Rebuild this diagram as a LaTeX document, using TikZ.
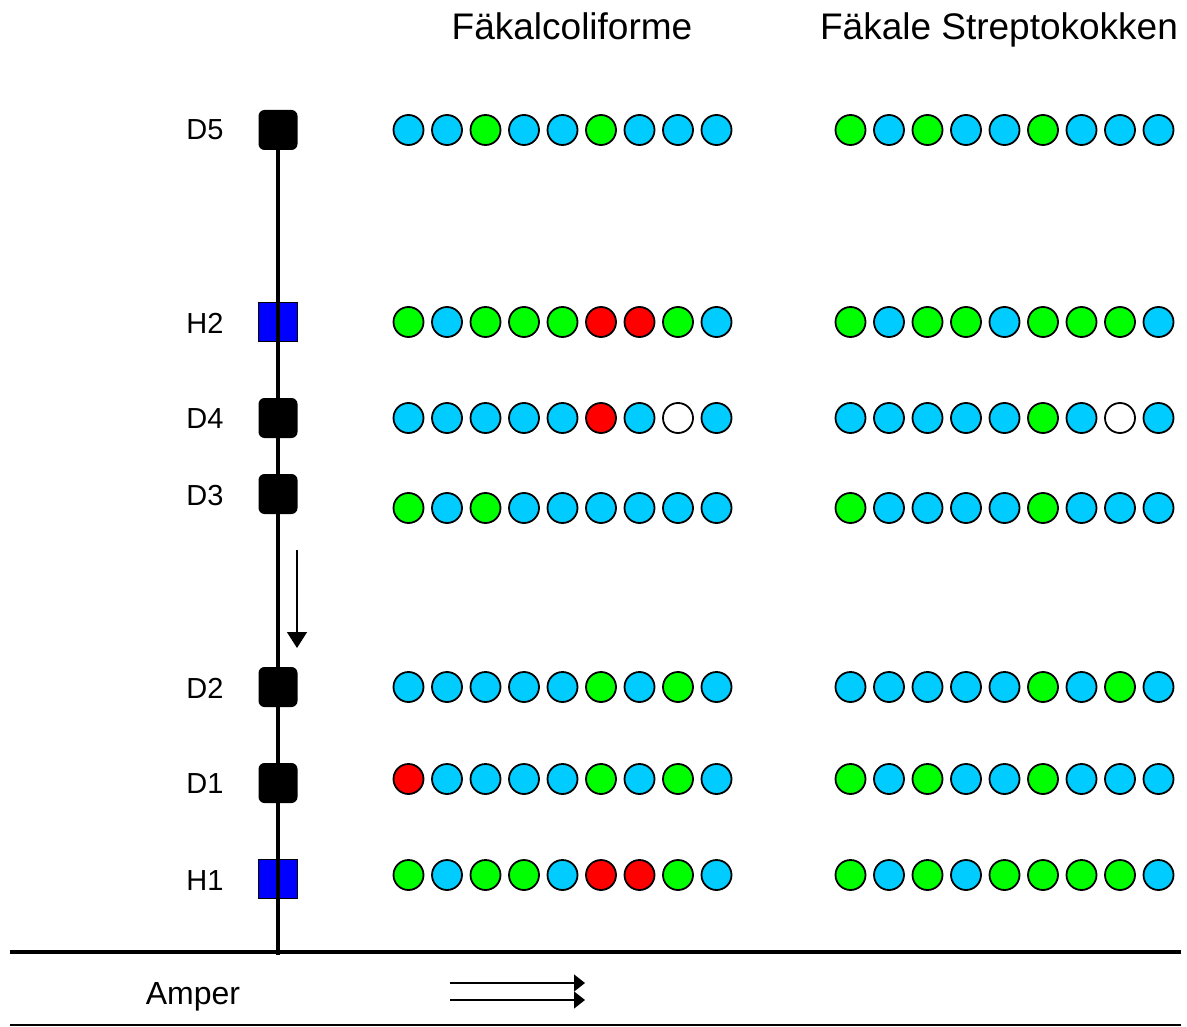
\documentclass[tikz,border=0pt]{standalone}
\usepackage{fontspec}
\setmainfont{Liberation Sans}
\usetikzlibrary{arrows.meta}
\definecolor{colc}{HTML}{00CCFF}
\definecolor{colg}{HTML}{00FF00}
\definecolor{colr}{HTML}{FF0000}
\definecolor{colw}{HTML}{FFFFFF}
\definecolor{hbox}{HTML}{0000FF}
\tikzset{
  dot/.style={circle,draw=black,line width=1.8pt,minimum size=30pt,inner sep=0pt},
  dbox/.style={rectangle,rounded corners=6pt,fill=black,minimum width=39pt,minimum height=40pt,inner sep=0pt},
  hstation/.style={rectangle,fill=hbox,draw=black,line width=0.8pt,minimum width=39pt,minimum height=39pt,inner sep=0pt},
  lbl/.style={font=\fontsize{29}{32}\selectfont,inner sep=0pt},
  head/.style={font=\fontsize{37}{40}\selectfont,inner sep=0pt,anchor=base},
  thinarrow/.style={line width=1.3pt,-{Triangle[width=20pt,length=16pt]}},
  amparrow/.style={line width=1.3pt,-{Triangle[width=17pt,length=11pt]}}
}
\begin{document}
\begin{tikzpicture}[x=1pt,y=-1pt]
\useasboundingbox (0,0) rectangle (1187,1027);
% headings
\node[head] (hfc) at (572,40) {Fäkalcoliforme};
\node[head] (hfs) at (999,40) {Fäkale Streptokokken};
% stations
\node[dbox] (D5) at (278,130) {};
\node[hstation] (H2) at (278,322) {};
\node[dbox] (D4) at (278,418) {};
\node[dbox] (D3) at (278,494) {};
\node[dbox] (D2) at (278,687) {};
\node[dbox] (D1) at (278,783) {};
\node[hstation] (H1) at (278,879) {};
% labels
\node[lbl] (lD5) at (205,130) {D5};
\node[lbl] (lH2) at (205,323) {H2};
\node[lbl] (lD4) at (205,419) {D4};
\node[lbl] (lD3) at (205,496) {D3};
\node[lbl] (lD2) at (205,688) {D2};
\node[lbl] (lD1) at (205,784) {D1};
\node[lbl] (lH1) at (205,881) {H1};
% base lines
\coordinate (bl) at (10,952);
\coordinate (br) at (1181,952);
\coordinate (base) at (278,955);
\draw[line width=3.8pt] (bl) -- (br);
\draw[line width=3.8pt] (D5.center) -- (base);
\coordinate (ll) at (10,1025);
\coordinate (lr) at (1181,1025);
\draw[line width=1.3pt] (ll) -- (lr);
% flow arrow
\coordinate (fa1) at (297,550);
\coordinate (fa2) at (297,648);
\draw[thinarrow] (fa1) -- (fa2);
% Amper
\node[font=\fontsize{32}{36}\selectfont,inner sep=0pt] (amp) at (193,997) {Amper};
\coordinate (a1s) at (450,983);
\coordinate (a1e) at (585,983);
\coordinate (a2s) at (450,1000);
\coordinate (a2e) at (585,1000);
\draw[amparrow] (a1s) -- (a1e);
\draw[amparrow] (a2s) -- (a2e);
% dot rows
\foreach \row/\y/\fc/\fs in {
  D5/130/{c,c,g,c,c,g,c,c,c}/{g,c,g,c,c,g,c,c,c},
  H2/322/{g,c,g,g,g,r,r,g,c}/{g,c,g,g,c,g,g,g,c},
  D4/418/{c,c,c,c,c,r,c,w,c}/{c,c,c,c,c,g,c,w,c},
  D3/508/{g,c,g,c,c,c,c,c,c}/{g,c,c,c,c,g,c,c,c},
  D2/687/{c,c,c,c,c,g,c,g,c}/{c,c,c,c,c,g,c,g,c},
  D1/779/{r,c,c,c,c,g,c,g,c}/{g,c,g,c,c,g,c,c,c},
  H1/875/{g,c,g,g,c,r,r,g,c}/{g,c,g,c,g,g,g,g,c}} {
  \foreach \c [count=\i] in \fc {
    \node[dot,fill=col\c] (fc-\row-\i) at ({408.5+38.5*(\i-1)},\y) {};
  }
  \foreach \c [count=\i] in \fs {
    \node[dot,fill=col\c] (fs-\row-\i) at ({850.5+38.5*(\i-1)},\y) {};
  }
}
\end{tikzpicture}
\end{document}
